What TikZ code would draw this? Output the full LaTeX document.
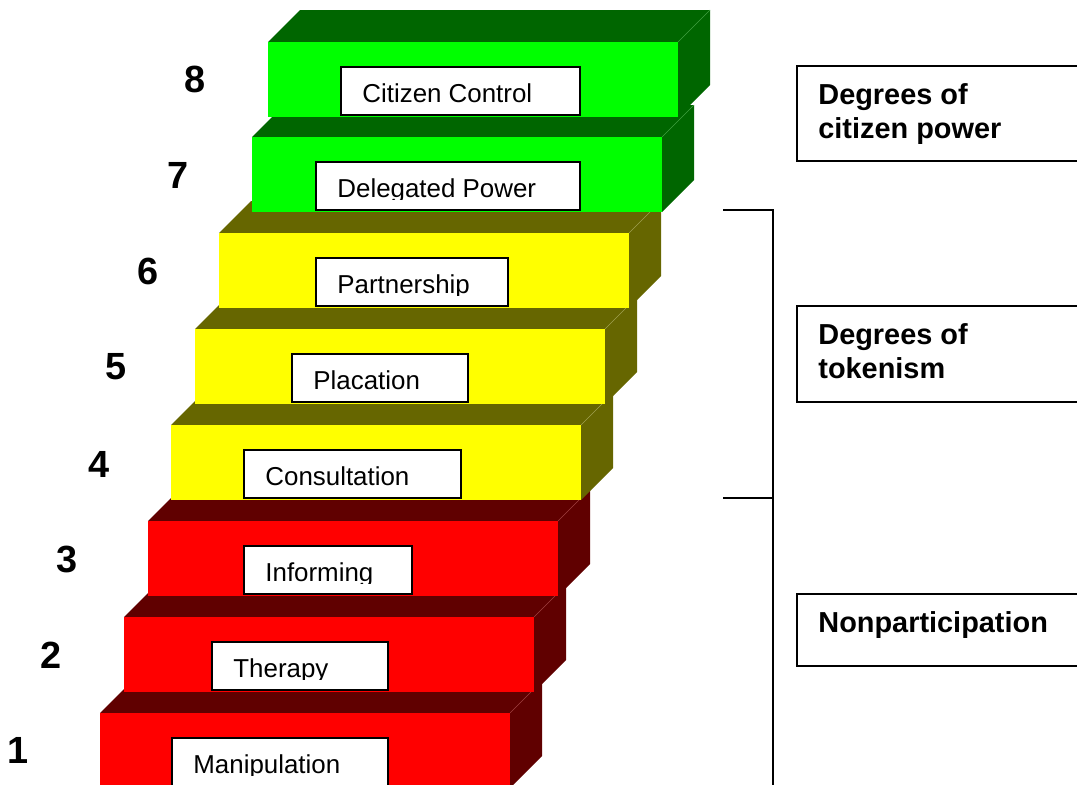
\documentclass[tikz,border=0pt]{standalone}
\usepackage{fontspec}
\setmainfont{Liberation Sans}
\usepackage{xcolor}
\definecolor{frontColorRed}{HTML}{FF0000}
\definecolor{sideColorRed}{HTML}{600000}
\definecolor{edgeColorRed}{HTML}{A04040}
\definecolor{frontColorYellow}{HTML}{FFFF00}
\definecolor{sideColorYellow}{HTML}{666600}
\definecolor{edgeColorYellow}{HTML}{A0A050}
\definecolor{frontColorGreen}{HTML}{00FF00}
\definecolor{sideColorGreen}{HTML}{006600}
\definecolor{edgeColorGreen}{HTML}{40A040}
\def\textA{Manipulation}
\def\textB{Therapy}
\def\textC{Informing}
\def\textD{Consultation}
\def\textE{Placation}
\def\textF{Partnership}
\def\textG{Delegated Power}
\def\textH{Citizen Control}

\begin{document}
\begin{tikzpicture}[x=0.5bp,y=-0.5bp,
  rungtext/.style={anchor=base west, inner sep=0pt, font=\fontsize{13}{15}\selectfont},
  rungbox/.style={draw=black, line width=0.75bp, fill=white},
  rungnumber/.style={anchor=center, inner sep=0pt, font=\bfseries\fontsize{19}{19}\selectfont},
  groupbox/.style={draw=black, line width=0.75bp},
  grouptext/.style={anchor=north west, inner sep=0pt, align=left,
    font=\bfseries\fontsize{14.5}{17}\selectfont}]
\useasboundingbox (0, 0) rectangle (1077, 785);

% ladder layer, from the lowest rung up
\begin{scope}[shift={(100, 713)}]
\fill[color=sideColorRed] (0, 0) -- (32, -32) -- (442, -32) -- (442, 43) -- (410, 75) -- (410, 0) -- cycle;
\draw[color=edgeColorRed, very thin] (410, 0) -- (442, -32);
\fill[color=frontColorRed] (0, 0) rectangle (410, 75);
\draw[rungbox] (72, 25) rectangle (288, 73);
\begin{scope}
\clip (72, 25) rectangle (288, 62);
\node[rungtext] (rungA) at (93, 60) {\textA};
\end{scope}
\end{scope}
\begin{scope}[shift={(124, 617)}]
\fill[color=sideColorRed] (0, 0) -- (32, -32) -- (442, -32) -- (442, 43) -- (410, 75) -- (410, 0) -- cycle;
\draw[color=edgeColorRed, very thin] (410, 0) -- (442, -32);
\fill[color=frontColorRed] (0, 0) rectangle (410, 75);
\draw[rungbox] (88, 25) rectangle (264, 73);
\begin{scope}
\clip (88, 25) rectangle (264, 62);
\node[rungtext] (rungB) at (109, 60) {\textB};
\end{scope}
\end{scope}
\begin{scope}[shift={(148, 521)}]
\fill[color=sideColorRed] (0, 0) -- (32, -32) -- (442, -32) -- (442, 43) -- (410, 75) -- (410, 0) -- cycle;
\draw[color=edgeColorRed, very thin] (410, 0) -- (442, -32);
\fill[color=frontColorRed] (0, 0) rectangle (410, 75);
\draw[rungbox] (96, 25) rectangle (264, 73);
\begin{scope}
\clip (96, 25) rectangle (264, 62);
\node[rungtext] (rungC) at (117, 60) {\textC};
\end{scope}
\end{scope}
\begin{scope}[shift={(171, 425)}]
\fill[color=sideColorYellow] (0, 0) -- (32, -32) -- (442, -32) -- (442, 43) -- (410, 75) -- (410, 0) -- cycle;
\draw[color=edgeColorYellow, very thin] (410, 0) -- (442, -32);
\fill[color=frontColorYellow] (0, 0) rectangle (410, 75);
\draw[rungbox] (73, 25) rectangle (290, 73);
\begin{scope}
\clip (73, 25) rectangle (290, 62);
\node[rungtext] (rungD) at (94, 60) {\textD};
\end{scope}
\end{scope}
\begin{scope}[shift={(195, 329)}]
\fill[color=sideColorYellow] (0, 0) -- (32, -32) -- (442, -32) -- (442, 43) -- (410, 75) -- (410, 0) -- cycle;
\draw[color=edgeColorYellow, very thin] (410, 0) -- (442, -32);
\fill[color=frontColorYellow] (0, 0) rectangle (410, 75);
\draw[rungbox] (97, 25) rectangle (273, 73);
\begin{scope}
\clip (97, 25) rectangle (273, 62);
\node[rungtext] (rungE) at (118, 60) {\textE};
\end{scope}
\end{scope}
\begin{scope}[shift={(219, 233)}]
\fill[color=sideColorYellow] (0, 0) -- (32, -32) -- (442, -32) -- (442, 43) -- (410, 75) -- (410, 0) -- cycle;
\draw[color=edgeColorYellow, very thin] (410, 0) -- (442, -32);
\fill[color=frontColorYellow] (0, 0) rectangle (410, 75);
\draw[rungbox] (97, 25) rectangle (289, 73);
\begin{scope}
\clip (97, 25) rectangle (289, 62);
\node[rungtext] (rungF) at (118, 60) {\textF};
\end{scope}
\end{scope}
\begin{scope}[shift={(252, 137)}]
\fill[color=sideColorGreen] (0, 0) -- (32, -32) -- (442, -32) -- (442, 43) -- (410, 75) -- (410, 0) -- cycle;
\draw[color=edgeColorGreen, very thin] (410, 0) -- (442, -32);
\fill[color=frontColorGreen] (0, 0) rectangle (410, 75);
\draw[rungbox] (64, 25) rectangle (328, 73);
\begin{scope}
\clip (64, 25) rectangle (328, 62);
\node[rungtext] (rungG) at (85, 60) {\textG};
\end{scope}
\end{scope}
\begin{scope}[shift={(268, 42)}]
\fill[color=sideColorGreen] (0, 0) -- (32, -32) -- (442, -32) -- (442, 43) -- (410, 75) -- (410, 0) -- cycle;
\draw[color=edgeColorGreen, very thin] (410, 0) -- (442, -32);
\fill[color=frontColorGreen] (0, 0) rectangle (410, 75);
\draw[rungbox] (73, 25) rectangle (312, 73);
\begin{scope}
\clip (73, 25) rectangle (312, 62);
\node[rungtext] (rungH) at (94, 60) {\textH};
\end{scope}
\end{scope}

% number layer
\node[rungnumber] (numA) at (18, 750) {1};
\node[rungnumber] (numB) at (51, 655) {2};
\node[rungnumber] (numC) at (67, 559) {3};
\node[rungnumber] (numD) at (99, 464) {4};
\node[rungnumber] (numE) at (116, 367) {5};
\node[rungnumber] (numF) at (148, 271) {6};
\node[rungnumber] (numG) at (178, 175) {7};
\node[rungnumber] (numH) at (195, 79) {8};

% bracket
\draw[line width=1bp] (723, 210) -- (773, 210) -- (773, 790);
\draw[line width=1bp] (723, 498) -- (773, 498);

% group layer
\draw[groupbox] (797, 66) rectangle (1090, 161);
\node[grouptext] (groupPower) at (818, 83) {Degrees of\\citizen power};
\draw[groupbox] (797, 306) rectangle (1090, 402);
\node[grouptext] (groupToken) at (818, 323) {Degrees of\\tokenism};
\draw[groupbox] (797, 594) rectangle (1090, 666);
\node[grouptext] (groupNon) at (818, 611) {Nonparticipation};
\end{tikzpicture}
\end{document}
